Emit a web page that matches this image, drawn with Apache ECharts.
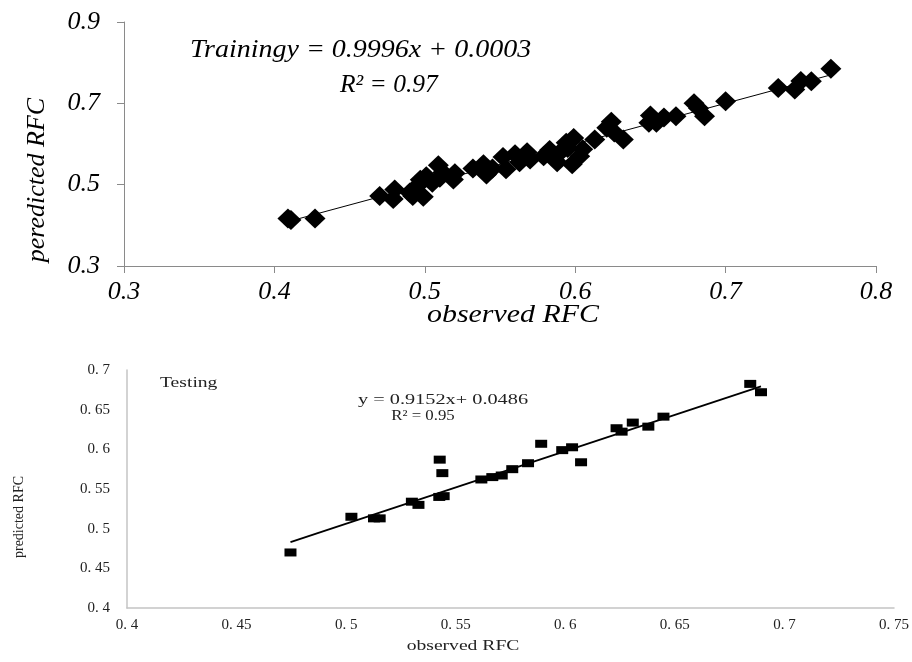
<!DOCTYPE html>
<html>
<head>
<meta charset="utf-8">
<script src="https://cdn.jsdelivr.net/npm/echarts@6/dist/echarts.min.js"></script>
<style>
  html, body { margin: 0; padding: 0; background: #fff; }
  #chart { width: 912px; height: 662px; }
</style>
</head>
<body>
<div id="chart"></div>
<script>
// Training set: observed vs predicted RFC
const trainObserved = [0.409, 0.411, 0.427, 0.470, 0.479, 0.480, 0.490, 0.492, 0.495, 0.499,
  0.497, 0.501, 0.505, 0.509, 0.510, 0.512, 0.519, 0.520, 0.532, 0.539,
  0.541, 0.545, 0.554, 0.552, 0.560, 0.563, 0.570, 0.568, 0.579, 0.583,
  0.588, 0.590, 0.594, 0.595, 0.598, 0.599, 0.603, 0.605, 0.613, 0.621,
  0.624, 0.626, 0.632, 0.649, 0.650, 0.654, 0.659, 0.667, 0.679, 0.682,
  0.686, 0.700, 0.735, 0.746, 0.750, 0.757, 0.770];
const trainPredicted = [0.417, 0.413, 0.417, 0.472, 0.465, 0.488, 0.481, 0.472, 0.497, 0.470,
  0.512, 0.521, 0.505, 0.548, 0.517, 0.530, 0.513, 0.528, 0.540, 0.550,
  0.525, 0.540, 0.538, 0.568, 0.575, 0.555, 0.562, 0.580, 0.570, 0.585,
  0.555, 0.580, 0.603, 0.590, 0.550, 0.615, 0.570, 0.587, 0.611, 0.640,
  0.655, 0.628, 0.611, 0.652, 0.670, 0.652, 0.665, 0.668, 0.700, 0.688,
  0.668, 0.705, 0.738, 0.734, 0.755, 0.754, 0.785];
const trainSlope = 0.9996, trainIntercept = 0.0003, trainR2 = 0.97;

// Testing set
const testObserved = [0.4746, 0.5024, 0.5127, 0.5153, 0.530, 0.533, 0.5427, 0.5439, 0.5425, 0.5445,
  0.5617, 0.5667, 0.571, 0.5758, 0.583, 0.589, 0.5986, 0.6031, 0.6072, 0.6234,
  0.6257, 0.6308, 0.6379, 0.6448, 0.6844, 0.6893];
const testPredicted = [0.470, 0.515, 0.513, 0.513, 0.534, 0.530, 0.587, 0.570, 0.540, 0.541,
  0.562, 0.565, 0.567, 0.575, 0.5825, 0.607, 0.599, 0.6026, 0.5837, 0.6266,
  0.6223, 0.6337, 0.6286, 0.6412, 0.6825, 0.672];
const testSlope = 0.9152, testIntercept = 0.0486, testR2 = 0.95;

// Axis ranges and ticks
const topX = { min: 0.3, max: 0.8, interval: 0.1 };
const topY = { min: 0.3, max: 0.9, interval: 0.2 };
const botX = { min: 0.4, max: 0.75, interval: 0.05 };
const botY = { min: 0.4, max: 0.7, interval: 0.05 };

const zip = (a, b) => a.map((v, i) => [v, b[i]]);
const fitLine = (xs, m, c) => {
  const lo = Math.min(...xs), hi = Math.max(...xs);
  return [[lo, m * lo + c], [hi, m * hi + c]];
};
// bottom panel prints its ticks as "0. 65"
const spacedTick = v => String(+v.toFixed(2)).replace('.', '. ');

const serif = 'Liberation Serif';
const topAxisLine = { lineStyle: { color: '#8a8a8a', width: 1 } };
const botAxisLine = { lineStyle: { color: '#c4c4c4', width: 1.5 } };
const topFont = { fontFamily: serif, fontStyle: 'italic', fontSize: 26, color: '#000' };
const botFont = { fontFamily: serif, fontSize: 15, color: '#222' };

const label = (text, x, y, font, opts) => Object.assign({
  type: 'text', x: x, y: y,
  style: Object.assign({ text: text, font: font, fill: '#000', align: 'left', verticalAlign: 'middle' }, (opts && opts.style) || {})
}, opts ? { scaleX: opts.scaleX || 1, rotation: opts.rotation || 0 } : {});

const chart = echarts.init(document.getElementById('chart'), null, { renderer: 'canvas' });
chart.setOption({
  animation: false,
  backgroundColor: '#ffffff',
  grid: [
    { left: 124, top: 22, width: 752, height: 244 },
    { left: 127, top: 370, width: 768, height: 238 }
  ],
  xAxis: [
    {
      gridIndex: 0, type: 'value', min: topX.min, max: topX.max, interval: topX.interval,
      splitLine: { show: false }, axisLine: topAxisLine,
      axisTick: { show: true, length: 7, lineStyle: { color: '#8a8a8a' } },
      axisLabel: Object.assign({ margin: 13, formatter: v => v.toFixed(1) }, topFont)
    },
    {
      gridIndex: 1, type: 'value', min: botX.min, max: botX.max, interval: botX.interval,
      splitLine: { show: false }, axisLine: botAxisLine, axisTick: { show: false },
      axisLabel: Object.assign({ margin: 10, formatter: spacedTick }, botFont)
    }
  ],
  yAxis: [
    {
      gridIndex: 0, type: 'value', min: topY.min, max: topY.max, interval: topY.interval,
      splitLine: { show: false }, axisLine: topAxisLine,
      axisTick: { show: true, length: 7, lineStyle: { color: '#8a8a8a' } },
      axisLabel: Object.assign({ margin: 24, formatter: v => v.toFixed(1) }, topFont)
    },
    {
      gridIndex: 1, type: 'value', min: botY.min, max: botY.max, interval: botY.interval,
      splitLine: { show: false }, axisLine: botAxisLine, axisTick: { show: false },
      axisLabel: Object.assign({ margin: 17, formatter: spacedTick }, botFont)
    }
  ],
  series: [
    {
      type: 'line', xAxisIndex: 0, yAxisIndex: 0, data: fitLine(trainObserved, trainSlope, trainIntercept),
      symbol: 'none', lineStyle: { color: '#000', width: 1 }, z: 1
    },
    {
      type: 'scatter', xAxisIndex: 0, yAxisIndex: 0, data: zip(trainObserved, trainPredicted),
      symbol: 'diamond', symbolSize: [21, 20], itemStyle: { color: '#000', opacity: 1 }, z: 2
    },
    {
      type: 'line', xAxisIndex: 1, yAxisIndex: 1, data: fitLine(testObserved, testSlope, testIntercept),
      symbol: 'none', lineStyle: { color: '#000', width: 1.8 }, z: 1
    },
    {
      type: 'scatter', xAxisIndex: 1, yAxisIndex: 1, data: zip(testObserved, testPredicted),
      symbol: 'rect', symbolSize: [12, 8], itemStyle: { color: '#000', opacity: 1 }, z: 2
    }
  ],
  graphic: [
    // top panel: regression note and axis titles
    label('Trainingy = ' + trainSlope + 'x + ' + trainIntercept.toFixed(4), 190, 50,
      'italic 25px "Liberation Serif"', { scaleX: 1.12 }),
    label('R² = ' + trainR2, 340, 85, 'italic 25px "Liberation Serif"', { scaleX: 1.02 }),
    label('observed RFC', 513, 315, 'italic 26px "Liberation Serif"', { scaleX: 1.15, style: { align: 'center' } }),
    label('peredicted RFC', 37, 180, 'italic 26px "Liberation Serif"', { rotation: Math.PI / 2, style: { align: 'center' } }),
    // bottom panel
    label('Testing', 160, 383, '14px "Liberation Serif"', { scaleX: 1.4, style: { fill: '#222' } }),
    label('y = ' + testSlope + 'x+ ' + testIntercept, 358, 400, '14px "Liberation Serif"', { scaleX: 1.45, style: { fill: '#222' } }),
    label('R² = ' + testR2, 423, 416, '14px "Liberation Serif"', { scaleX: 1.2, style: { fill: '#222', align: 'center' } }),
    label('observed RFC', 463, 646, '14px "Liberation Serif"', { scaleX: 1.4, style: { fill: '#222', align: 'center' } }),
    label('predicted RFC', 19, 517, '14px "Liberation Serif"', { rotation: Math.PI / 2, style: { fill: '#222', align: 'center' } })
  ]
});
</script>
</body>
</html>
